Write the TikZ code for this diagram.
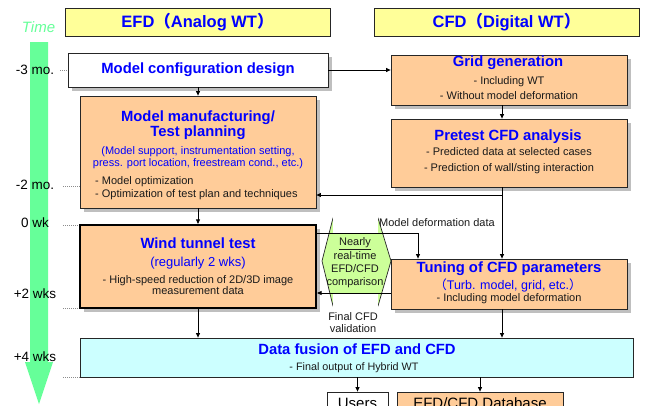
\documentclass[tikz,border=0pt]{standalone}
\usepackage{fontspec}
\setmainfont{Liberation Sans}
\newfontfamily\cjkfont{Noto Sans CJK SC}
\usetikzlibrary{arrows.meta,shadows}

\definecolor{hwHead}{HTML}{FFFF99}
\definecolor{hwOrange}{HTML}{FFCC99}
\definecolor{hwCyan}{HTML}{CCFFFF}
\definecolor{hwHex}{HTML}{CCFF99}
\definecolor{hwTime}{HTML}{66FF99}
\definecolor{hwBlue}{HTML}{0000FF}
\definecolor{hwInk}{HTML}{1A1A1A}
\definecolor{hwEdge}{HTML}{262626}
\definecolor{hwShade}{HTML}{BFBFBF}
\definecolor{hwTick}{HTML}{8C8C8C}
\newcommand{\hwlp}{{\cjkfont （}}
\newcommand{\hwrp}{{\cjkfont ）}}

\begin{document}
\begin{tikzpicture}[
  x=1pt, y=-1pt,
  box/.style={draw=hwEdge, line width=.8pt, inner sep=0pt},
  shbox/.style={box, drop shadow={shadow xshift=3.5pt, shadow yshift=-3.5pt,
    fill=hwShade, opacity=1}},
  headbox/.style={box, fill=hwHead, minimum width=265, minimum height=28,
    font=\fontsize{16.5}{18}\selectfont\bfseries, text=hwBlue},
  ttl/.style={inner sep=0pt, align=center, text=hwBlue,
    font=\fontsize{14.8}{15}\selectfont\bfseries},
  sub/.style={inner sep=0pt, align=center, text=hwBlue,
    font=\fontsize{11}{11.5}\selectfont},
  body/.style={inner sep=0pt, align=center, text=hwInk,
    font=\fontsize{11}{15}\selectfont},
  note/.style={inner sep=0pt, align=center, text=hwInk,
    font=\fontsize{11}{12}\selectfont},
  tlab/.style={inner sep=0pt, text=black, font=\fontsize{13.5}{14}\selectfont},
  tick/.style={draw=hwTick, line width=.6pt, dash pattern=on 1pt off 1pt},
  arr/.style={draw=black, line width=.8pt, -{Triangle[length=4.5pt,width=4pt]}},
]
\clip (0,0) rectangle (645,405);

% ---- time axis -----------------------------------------------------------
\fill[hwTime] (30,42) -- (48,42) -- (48,362) -- (53,362) -- (39,404)
  -- (25,362) -- (30,362) -- cycle;
\node[inner sep=0pt, text=hwTime, font=\fontsize{15}{16}\selectfont\itshape]
  (time) at (38.5,27) {Time};
\node[tlab] (t3m) at (35,70)  {-3 mo.};
\node[tlab] (t2m) at (35,185) {-2 mo.};
\node[tlab] (t0w) at (35,223) {0 wk};
\node[tlab] (t2w) at (35,294) {+2 wks};
\node[tlab] (t4w) at (35,357) {+4 wks};

% ---- column heads --------------------------------------------------------
\node[headbox] (efd) at (197.5,22) {EFD\hwlp Analog WT\hwrp};
\node[headbox] (cfd) at (506.5,22) {CFD\hwlp Digital WT\hwrp};

% ---- EFD side ------------------------------------------------------------
\node[shbox, fill=white, minimum width=260, minimum height=34] (cfg) at (198,70) {};
\node[shbox, fill=hwOrange, minimum width=236, minimum height=112] (mfg) at (198,152) {};
\node[shbox, fill=hwOrange, minimum width=236, minimum height=83,
  line width=2.2pt, draw=black] (wtt) at (198,266.5) {};

% ---- CFD side ------------------------------------------------------------
\node[shbox, fill=hwOrange, minimum width=236, minimum height=50] (grid) at (509,80) {};
\node[shbox, fill=hwOrange, minimum width=236, minimum height=68] (pretest) at (509,153) {};
\node[shbox, fill=hwOrange, minimum width=236, minimum height=50] (tuning) at (509,284) {};

% ---- fusion and outputs --------------------------------------------------
\node[box, fill=hwCyan, minimum width=553, minimum height=39] (fusion) at (356.5,357.5) {};
\node[box, fill=white, minimum width=61, minimum height=22,
  font=\fontsize{15}{16}\selectfont] (users) at (357.5,403) {Users};
\node[box, fill=hwOrange, minimum width=166, minimum height=22,
  font=\fontsize{15}{16}\selectfont] (dbase) at (480,403) {EFD/CFD Database};

% ---- time ticks ----------------------------------------------------------
\coordinate (k3m) at (60,70);
\coordinate (k2m) at (63,186);
\coordinate (k0w) at (63,225);
\coordinate (k2w) at (63,308);
\coordinate (k4w) at (63,377);
\draw[tick] (k3m) -- (k3m -| cfg.west);
\draw[tick] (k2m) -- (k2m -| mfg.west);
\draw[tick] (k0w) -- (k0w -| wtt.west);
\draw[tick] (k2w) -- (k2w -| wtt.west);
\draw[tick] (k4w) -- (k4w -| fusion.west);

% ---- comparison hexagon --------------------------------------------------
\filldraw[fill=hwHex, draw=hwEdge, line width=.7pt] (322,261) -- (333,218)
  -- (378,218) -- (391,261) -- (378,306) -- (333,306) -- cycle;
\fill[white] (333,216.5) rectangle (378,232.5);
\fill[white] (333,293.5) rectangle (378,307.5);

% ---- connectors ----------------------------------------------------------
\coordinate (jn)  at (502,195);
\coordinate (dfk) at (418,233);
\coordinate (fvk) at (391,293);
\draw[arr] (cfg.south) -- (mfg.north);
\draw[arr] (mfg.south) -- (wtt.north);
\draw[arr] (wtt.south) -- (wtt.south |- fusion.north);
\draw[arr] (cfg.east) -- (cfg.east -| grid.west);
\draw[arr] (grid.south -| jn) -- (pretest.north -| jn);
\draw[line width=.8pt] (pretest.south -| jn) -- (jn);
\draw[arr] (jn) -- (jn -| mfg.east);
\draw[arr] (jn) -- (jn |- tuning.north);
\draw[arr] (tuning.south -| jn) -- (fusion.north -| jn);
\draw[arr] (dfk -| wtt.east) -- (dfk) -- (dfk |- tuning.north);
\draw[arr] (fvk -| tuning.west) -- (fvk -| wtt.east);
\draw[arr] (fusion.south -| users.north) -- (users.north);
\draw[arr] (fusion.south -| dbase.north) -- (dbase.north);

% ---- box texts -----------------------------------------------------------
\node[ttl] (cfgT) at (198,70) {Model configuration design};
\node[ttl] (mfgT) at (198,125.5) {Model manufacturing/\\Test planning};
\node[sub] (mfgS) at (198,157.5)
  {(Model support, instrumentation setting,\\press. port location, freestream cond., etc.)};
\node[note, anchor=west, align=left, font=\fontsize{11}{13}\selectfont]
  (mfgB) at (95,188.5) {- Model optimization\\- Optimization of test plan and techniques};
\node[ttl] (wttT) at (198,243) {Wind tunnel test};
\node[sub, font=\fontsize{13}{14}\selectfont] (wttS) at (198,263) {(regularly 2 wks)};
\node[note, font=\fontsize{11}{10.5}\selectfont] (wttB) at (198,285)
  {- High-speed reduction of 2D/3D image\\measurement data};
\node[ttl] (gridT) at (508,63) {Grid generation};
\node[body] (gridB) at (509,88.5) {- Including WT\\- Without model deformation};
\node[ttl] (pretT) at (508,137) {Pretest CFD analysis};
\node[body, font=\fontsize{11}{16}\selectfont] (pretB) at (509,161)
  {- Predicted data at selected cases\\- Prediction of wall/sting interaction};
\node[ttl] (tunT) at (509,269) {Tuning of CFD parameters};
\node[sub, font=\fontsize{12.5}{13}\selectfont] (tunS) at (508,285)
  {\hwlp Turb. model, grid, etc.\hwrp};
\node[note] (tunB) at (509,299) {- Including model deformation};
\node[ttl] (fusT) at (357,349) {Data fusion of EFD and CFD};
\node[note, font=\fontsize{10.8}{12}\selectfont] (fusB) at (354,368)
  {- Final output of Hybrid WT};

% ---- hexagon and link labels ---------------------------------------------
\node[note, font=\fontsize{11}{13.3}\selectfont] (cmp) at (355,263)
  {\underline{Nearly}\\real-time\\EFD/CFD\\comparison};
\node[note, anchor=west] (defo) at (379,223) {Model deformation data};
\node[note] (fval) at (353,323) {Final CFD\\validation};
\end{tikzpicture}
\end{document}
